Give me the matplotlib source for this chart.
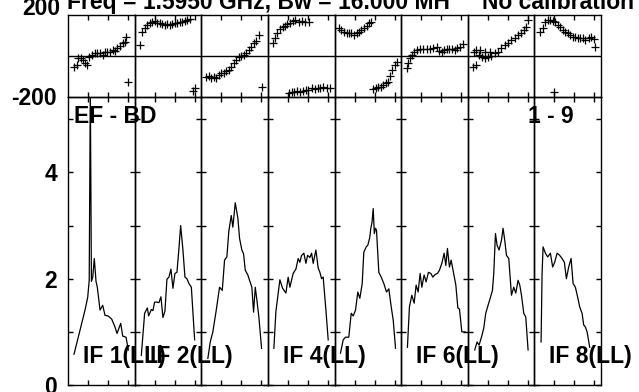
import numpy as np
import matplotlib.pyplot as plt

plt.rcParams['font.family'] = ['Liberation Sans', 'DejaVu Sans']
plt.rcParams['font.weight'] = 'bold'

# amplitude spectra, one list per IF (channel, amplitude)
amp_ch = [
    [6, 12, 17, 19.7, 21.2, 22.3, 23.4, 24.7, 26.3, 28, 29.3, 32, 34.7, 37, 40, 43.7, 47, 49, 52.7, 54.7, 58, 60.3],
    [6.7, 10, 12.7, 14, 16.7, 18.3, 20, 22.3, 24.3, 26.3, 28.3, 30.3, 32.3, 34.3, 36.3, 38.3, 40.3, 42.3, 44.3, 46, 48.3, 50.3, 52.3, 54.3, 56.7, 60],
    [6.6, 9, 11.6, 15, 18.3, 21, 23.3, 25.6, 27.6, 30, 31.6, 34, 36.6, 38.3, 40.6, 42.3, 44, 46.6, 48.3, 50.6, 52.3, 54, 55.6, 57.6, 60.3],
    [6, 8, 12, 14.7, 18, 20.3, 22, 25.3, 28, 30.3, 32, 33.7, 36, 38, 39.7, 42, 43.7, 45.3, 48, 50.3, 52, 53.7, 55.3, 58, 60.3],
    [6, 8.7, 11, 14.3, 16.7, 18.7, 21, 23.3, 25.3, 27.7, 29.3, 31.7, 33.3, 35.3, 36.3, 37.5, 38.7, 39.8, 41, 42, 44.3, 46.7, 49.3, 52, 54.3, 56.7, 58.7, 61],
    [6.3, 8.3, 10.7, 13, 15, 17, 19, 20.7, 23, 25, 27.3, 29.7, 31.7, 34, 36.3, 38.3, 40.7, 43, 44.7, 46.3, 48.3, 50, 52.3, 54.7, 56.7, 58.3, 60.7, 64],
    [7, 9.3, 11.3, 13.7, 16, 18, 20.3, 22.7, 24.7, 26, 27.7, 29.3, 31.3, 33.7, 35.3, 37, 38.7, 41, 43.7, 46, 48, 50.3, 52, 53.7, 56, 58, 60.3],
    [6.7, 7.7, 8.7, 11, 13.3, 16, 18.3, 20.3, 22.7, 25.3, 27.7, 30, 32, 34.3, 36.7, 38.7, 41, 43.3, 45.3, 47.7, 49.3, 51, 52.7, 55.3],
]
amp_val = [
    [0.58, 1.03, 1.41, 1.65, 1.97, 5.6, 1.95, 2.03, 2.38, 1.95, 1.84, 1.41, 1.50, 1.31, 1.30, 1.24, 1.09, 0.97, 1.16, 0.92, 0.90, 0.66],
    [0.56, 1.35, 1.45, 1.30, 1.42, 1.40, 1.56, 1.56, 1.55, 1.66, 1.27, 1.39, 1.99, 2.03, 2.18, 1.82, 2.10, 2.12, 2.57, 3.0, 2.54, 2.03, 2.0, 1.91, 1.84, 0.85],
    [0.5, 0.81, 1.0, 1.41, 1.84, 1.78, 2.35, 2.41, 2.9, 3.19, 2.97, 3.43, 3.14, 2.76, 2.54, 2.47, 2.16, 2.07, 1.97, 1.84, 1.37, 1.84, 1.60, 1.28, 0.69],
    [0.69, 1.38, 1.98, 1.82, 1.73, 2.03, 1.84, 2.10, 2.18, 2.38, 2.31, 2.44, 2.48, 2.29, 2.44, 2.40, 2.48, 2.29, 2.54, 2.2, 2.12, 2.0, 2.03, 1.41, 0.85],
    [0.6, 0.85, 0.9, 0.9, 1.35, 1.3, 1.41, 1.75, 1.63, 1.91, 2.5, 2.6, 2.63, 2.78, 2.95, 3.06, 3.32, 2.85, 2.95, 2.91, 2.12, 2.03, 1.91, 1.75, 1.81, 1.47, 1.22, 0.69],
    [0.71, 1.47, 1.69, 1.54, 1.88, 1.75, 2.10, 1.84, 2.07, 1.94, 2.12, 2.10, 2.03, 2.08, 2.10, 2.16, 2.29, 2.48, 2.25, 2.57, 2.22, 2.35, 2.12, 1.88, 1.45, 1.43, 1.0, 1.0],
    [0.66, 0.81, 0.75, 0.9, 1.07, 1.35, 1.50, 1.65, 1.78, 2.10, 2.85, 2.63, 2.54, 2.72, 2.95, 2.72, 2.44, 2.38, 1.69, 1.84, 1.73, 1.97, 1.88, 1.69, 1.35, 1.28, 0.66],
    [0.81, 2.10, 2.6, 2.48, 2.41, 2.48, 2.22, 2.31, 2.48, 2.44, 2.38, 2.31, 2.0, 2.22, 2.38, 1.91, 1.84, 1.65, 1.47, 1.35, 1.13, 1.09, 1.0, 0.71],
]

# phase points (degrees)
ph_ch = [
    [6, 8.7, 10.3, 12.7, 14.7, 17, 18.7, 21.3, 23.7, 27, 29.3, 32, 34.7, 37, 39.3, 42, 44.7, 47, 49.3, 52, 54.7, 57, 58, 60.3],
    [5, 7.7, 10, 12.3, 15, 17.7, 20, 22.3, 25, 27.7, 30, 32.3, 35, 37.7, 40, 42.3, 45, 47.7, 50, 52.3, 55, 58.3, 60],
    [5, 7.6, 10, 12.3, 15, 17.6, 20, 22.3, 25, 27.6, 30, 32.3, 35, 37.6, 40, 42.3, 45, 47.6, 50, 52.3, 55, 57.6, 60.6],
    [4.7, 7, 9.3, 12, 14.7, 17, 19.3, 22, 24.7, 27, 31.3, 33.7, 37, 41.3,
     21.3, 23.7, 26, 28.7, 32, 34.7, 38, 40.3, 43.7, 47, 50.3, 52, 55.3, 58.7, 62],
    [4.3, 6.7, 9.3, 12, 14.3, 16.7, 19.3, 22, 24.3, 26.7, 29.3, 32, 34.3, 36.7,
     38.7, 41, 43.3, 46, 48.7, 51, 53.3, 55.3, 57.7, 60, 62],
    [6.3, 7.3, 9, 10.7, 13, 15.7, 19, 22.3, 25.7, 29, 32.3, 35.7, 38.3, 40.7, 43, 45.7, 48.3, 50.7, 54, 56.3, 59, 61.7],
    [5.3, 6, 8, 8.7, 11.3, 12.7, 14.7, 17, 17, 20.3, 22.7, 23.7, 27, 30.3, 33.7, 37, 40.3, 43.7, 47, 50.3, 53.7, 56, 58, 60.3],
    [6, 8.7, 11, 13.3, 16, 18.7, 19.3, 21, 23.3, 26, 28.7, 31, 33.3, 36, 38.7, 41, 43.3, 46, 48.7, 51, 54.3, 56.7, 59.3, 61],
]
ph_val = [
    [-52, -44, -11, -11, -20, -34, -44, -3, 5, 15, 15, 16, 5, 21, 21, 21, 29, 26, 37, 49, 62, 70, 91, -125],
    [54, 119, 135, 151, 160, 167, 172, 163, 160, 156, 151, 156, 151, 156, 160, 163, 167, 167, 172, 176, 179, -169, -158],
    [-104, -98, -109, -101, -109, -93, -85, -81, -72, -68, -52, -36, -20, -6, 0, 5, 16, 29, 46, 62, 75, 102, -153],
    [62, 86, 111, 130, 143, 146, 156, 163, 172, 176, 167, 172, 167, 167,
     -182, -174, -174, -169, -174, -169, -166, -166, -158, -162, -158, -158, -153, -158, -156],
    [135, 127, 119, 114, 111, 111, 102, 111, 119, 127, 135, 146, 160, 167,
     -162, -158, -153, -153, -141, -133, -125, -98, -68, -44, -28],
    [-60, -36, -11, 5, 21, 29, 33, 33, 33, 33, 37, 46, 26, 21, 29, 33, 33, 33, 29, 37, 46, 59],
    [-52, 21, -44, 29, 5, 29, -3, 21, -11, -3, 21, 0, 13, 21, 37, 54, 65, 78, 86, 102, 111, 127, 143, 176],
    [119, 135, 167, 176, 176, 172, -174, 167, 151, 143, 127, 119, 111, 102, 94, 91, 86, 86, 86, 78, 86, 94, 81, 46],
]

if_labels = {0: 'IF 1(LL)', 1: 'IF 2(LL)', 3: 'IF 4(LL)', 5: 'IF 6(LL)', 7: 'IF 8(LL)'}

W, H = 639, 392
fs = 16.5
fig = plt.figure(figsize=(W / 100, H / 100), dpi=100)

x0 = 68 / W
pw = 66.625 / W
tick_kw = dict(direction='in', length=3.6, width=1, top=True, bottom=True, left=True, right=True,
               labelbottom=False, labelleft=False)

labels = []
for i in range(8):
    axp = fig.add_axes([x0 + i * pw, 295 / H, pw, 82 / H])
    axa = fig.add_axes([x0 + i * pw, 7 / H, pw, 288 / H])

    axp.plot(ph_ch[i], ph_val[i], '+', color='k', ms=5.5, mew=0.9)
    axp.axhline(0, color='k', lw=1)
    axp.set_xlim(0, 66.6)
    axp.set_ylim(-200, 200)
    axp.set_xticks([20, 40, 60])
    axp.set_yticks([])
    axp.tick_params(**tick_kw)

    axa.plot(amp_ch[i], amp_val[i], color='k', lw=0.9)
    axa.set_xlim(0, 66.6)
    axa.set_ylim(0, 5.42)
    axa.set_xticks([20, 40, 60])
    axa.set_yticks(range(6))
    axa.tick_params(**tick_kw)

    for ax in (axp, axa):
        ax.set_facecolor('none')
        for s in ax.spines.values():
            s.set_linewidth(1)

    if i in if_labels:
        labels.append(axa.text(0.225, 0.0764, if_labels[i], transform=axa.transAxes,
                               va='baseline', fontsize=fs, clip_on=False))

    if i == 0:
        axa.set_yticklabels(['0', '', '2', '', '4', ''])
        axa.tick_params(labelleft=True, pad=8, labelsize=fs)
        labels.append(axa.text(0.09, 0.91, 'EF - BD', transform=axa.transAxes,
                               va='baseline', fontsize=fs))
        axp.annotate('200', xy=(0, 200), xycoords=('axes fraction', 'data'), xytext=(-5.8, 4.7),
                     textcoords='offset points', ha='right', va='center', fontsize=fs)
        axp.annotate('-200', xy=(0, -200), xycoords=('axes fraction', 'data'), xytext=(-8, -1),
                     textcoords='offset points', ha='right', va='center', fontsize=fs)
    if i == 7:
        labels.append(axa.text(-0.09, 0.91, '1 - 9', transform=axa.transAxes,
                               va='baseline', fontsize=fs))

for t in labels:
    t.set_zorder(10)

fig.text(67 / W, 1 - 9 / H, 'Freq = 1.5950 GHz, Bw = 16.000 MH', va='baseline', fontsize=fs)
fig.text(482 / W, 1 - 9 / H, 'No calibration', va='baseline', fontsize=fs)

fig.savefig('out.png', dpi=100)
